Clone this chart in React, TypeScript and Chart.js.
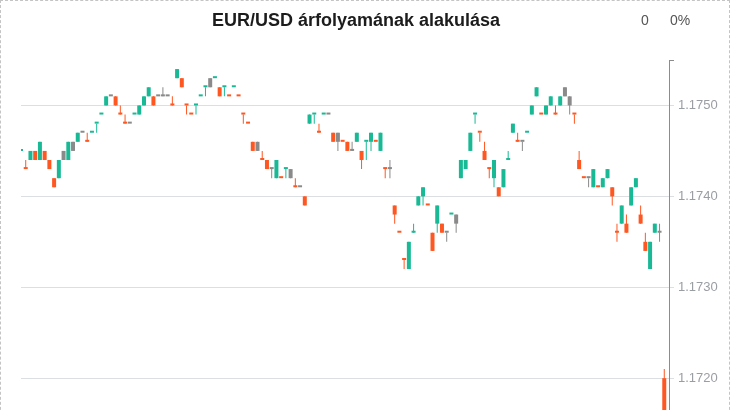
import React, { useEffect, useRef } from "react";
import { Chart, registerables } from "chart.js";

Chart.register(...registerables);

const TITLE = "EUR/USD árfolyamának alakulása";
const CHANGE_ABS = "0";
const CHANGE_PCT = "0%";

// close of the candle preceding the first one shown (sets the first candle's colour)
const PREVIOUS_CLOSE = 1.1744;

const OPEN = [
  1.1745, 1.1743, 1.1744, 1.1745, 1.1744, 1.1745, 1.1744, 1.1742, 1.1742, 1.1745,
  1.1744, 1.1745, 1.1746, 1.1747, 1.1746, 1.1747, 1.1748, 1.1749, 1.1750, 1.1751,
  1.1751, 1.1749, 1.1748, 1.1748, 1.1749, 1.1749, 1.1750, 1.1751, 1.1750, 1.1751,
  1.1751, 1.1751, 1.1750, 1.1753, 1.1753, 1.1750, 1.1749, 1.1750, 1.1751, 1.1752,
  1.1753, 1.1753, 1.1752, 1.1752, 1.1751, 1.1752, 1.1751, 1.1749, 1.1748, 1.1746,
  1.1746, 1.1744, 1.1744, 1.1743, 1.1742, 1.1742, 1.1743, 1.1742, 1.1741, 1.1741,
  1.1740, 1.1749, 1.1749, 1.1747, 1.1749, 1.1749, 1.1746, 1.1746, 1.1746, 1.1746,
  1.1745, 1.1746, 1.1745, 1.1746, 1.1746, 1.1746, 1.1745, 1.1743, 1.1743, 1.1739,
  1.1736, 1.1733, 1.1732, 1.1736, 1.1739, 1.1740, 1.1739, 1.1736, 1.1737, 1.1737,
  1.1736, 1.1738, 1.1737, 1.1744, 1.1743, 1.1745, 1.1749, 1.1747, 1.1745, 1.1743,
  1.1742, 1.1741, 1.1741, 1.1744, 1.1747, 1.1746, 1.1746, 1.1747, 1.1749, 1.1751,
  1.1749, 1.1749, 1.1750, 1.1749, 1.1750, 1.1752, 1.1750, 1.1749, 1.1744, 1.1742,
  1.1742, 1.1741, 1.1741, 1.1741, 1.1742, 1.1741, 1.1736, 1.1737, 1.1737, 1.1739,
  1.1741, 1.1738, 1.1735, 1.1732, 1.1737, 1.1736, 1.1720,
];

const HIGH = [
  1.1745, 1.1744, 1.1745, 1.1745, 1.1746, 1.1745, 1.1744, 1.1742, 1.1744, 1.1745,
  1.1746, 1.1746, 1.1747, 1.1747, 1.1747, 1.1747, 1.1748, 1.1749, 1.1751, 1.1751,
  1.1751, 1.1750, 1.1749, 1.1748, 1.1749, 1.1750, 1.1751, 1.1752, 1.1751, 1.1751,
  1.1752, 1.1751, 1.1751, 1.1754, 1.1753, 1.1750, 1.1749, 1.1750, 1.1751, 1.1752,
  1.1753, 1.1753, 1.1752, 1.1752, 1.1751, 1.1752, 1.1751, 1.1749, 1.1748, 1.1746,
  1.1746, 1.1745, 1.1744, 1.1743, 1.1744, 1.1742, 1.1743, 1.1743, 1.1742, 1.1741,
  1.1740, 1.1749, 1.1749, 1.1748, 1.1749, 1.1749, 1.1747, 1.1747, 1.1746, 1.1746,
  1.1746, 1.1747, 1.1745, 1.1746, 1.1747, 1.1746, 1.1747, 1.1743, 1.1744, 1.1739,
  1.1736, 1.1733, 1.1735, 1.1737, 1.1740, 1.1741, 1.1739, 1.1736, 1.1739, 1.1737,
  1.1736, 1.1738, 1.1738, 1.1744, 1.1744, 1.1747, 1.1749, 1.1747, 1.1746, 1.1743,
  1.1744, 1.1741, 1.1743, 1.1745, 1.1748, 1.1747, 1.1746, 1.1747, 1.1750, 1.1752,
  1.1749, 1.1750, 1.1751, 1.1750, 1.1751, 1.1752, 1.1751, 1.1749, 1.1745, 1.1742,
  1.1742, 1.1743, 1.1741, 1.1742, 1.1743, 1.1741, 1.1737, 1.1739, 1.1738, 1.1741,
  1.1742, 1.1739, 1.1736, 1.1735, 1.1737, 1.1737, 1.1721,
];

const LOW = [
  1.1745, 1.1743, 1.1744, 1.1744, 1.1744, 1.1744, 1.1743, 1.1741, 1.1742, 1.1744,
  1.1744, 1.1745, 1.1746, 1.1747, 1.1746, 1.1747, 1.1747, 1.1749, 1.1750, 1.1751,
  1.1750, 1.1749, 1.1748, 1.1748, 1.1749, 1.1749, 1.1750, 1.1751, 1.1750, 1.1751,
  1.1751, 1.1751, 1.1750, 1.1753, 1.1752, 1.1749, 1.1749, 1.1749, 1.1751, 1.1751,
  1.1752, 1.1753, 1.1751, 1.1751, 1.1751, 1.1752, 1.1751, 1.1748, 1.1748, 1.1745,
  1.1745, 1.1744, 1.1743, 1.1742, 1.1742, 1.1742, 1.1742, 1.1742, 1.1741, 1.1741,
  1.1739, 1.1748, 1.1748, 1.1747, 1.1749, 1.1749, 1.1746, 1.1745, 1.1746, 1.1745,
  1.1745, 1.1746, 1.1743, 1.1744, 1.1745, 1.1746, 1.1745, 1.1742, 1.1742, 1.1737,
  1.1736, 1.1732, 1.1732, 1.1736, 1.1739, 1.1739, 1.1739, 1.1734, 1.1736, 1.1736,
  1.1735, 1.1738, 1.1736, 1.1742, 1.1743, 1.1745, 1.1748, 1.1746, 1.1744, 1.1742,
  1.1741, 1.1740, 1.1741, 1.1744, 1.1747, 1.1746, 1.1745, 1.1747, 1.1749, 1.1751,
  1.1749, 1.1749, 1.1750, 1.1749, 1.1750, 1.1751, 1.1749, 1.1748, 1.1743, 1.1742,
  1.1741, 1.1741, 1.1741, 1.1741, 1.1742, 1.1739, 1.1735, 1.1737, 1.1736, 1.1739,
  1.1741, 1.1737, 1.1734, 1.1732, 1.1736, 1.1735, 1.1714,
];

const CLOSE = [
  1.1745, 1.1743, 1.1745, 1.1744, 1.1746, 1.1744, 1.1743, 1.1741, 1.1744, 1.1744,
  1.1746, 1.1746, 1.1747, 1.1747, 1.1746, 1.1747, 1.1748, 1.1749, 1.1751, 1.1751,
  1.1750, 1.1749, 1.1748, 1.1748, 1.1749, 1.1750, 1.1751, 1.1752, 1.1751, 1.1751,
  1.1751, 1.1751, 1.1750, 1.1754, 1.1752, 1.1750, 1.1749, 1.1750, 1.1751, 1.1752,
  1.1752, 1.1753, 1.1751, 1.1752, 1.1751, 1.1752, 1.1751, 1.1749, 1.1748, 1.1745,
  1.1745, 1.1744, 1.1743, 1.1743, 1.1744, 1.1742, 1.1743, 1.1743, 1.1741, 1.1741,
  1.1739, 1.1748, 1.1749, 1.1747, 1.1749, 1.1749, 1.1747, 1.1747, 1.1746, 1.1745,
  1.1745, 1.1747, 1.1744, 1.1746, 1.1747, 1.1746, 1.1747, 1.1743, 1.1743, 1.1738,
  1.1736, 1.1733, 1.1735, 1.1736, 1.1740, 1.1741, 1.1739, 1.1734, 1.1739, 1.1736,
  1.1736, 1.1738, 1.1738, 1.1742, 1.1744, 1.1747, 1.1749, 1.1747, 1.1744, 1.1743,
  1.1744, 1.1740, 1.1743, 1.1744, 1.1748, 1.1746, 1.1746, 1.1747, 1.1750, 1.1752,
  1.1749, 1.1750, 1.1751, 1.1749, 1.1751, 1.1751, 1.1751, 1.1749, 1.1743, 1.1742,
  1.1742, 1.1743, 1.1741, 1.1742, 1.1743, 1.1740, 1.1736, 1.1739, 1.1736, 1.1741,
  1.1742, 1.1737, 1.1734, 1.1735, 1.1736, 1.1736, 1.1714,
];

const Y_TICKS = [1.172, 1.173, 1.174, 1.175];
const Y_MIN = 1.17154;
const Y_MAX = 1.1755;

const UP = "#19b996";
const DOWN = "#ff5722";
const FLAT = "#8a8a8a";
const GRID = "#dcdfe2";
const AXIS = "#8c8c8c";
const FONT = '"Liberation Sans", Arial, Helvetica, sans-serif';

// candle colour follows the change against the previous close
function candleColour(i: number): string {
  const prev = i === 0 ? PREVIOUS_CLOSE : CLOSE[i - 1];
  if (CLOSE[i] > prev) return UP;
  if (CLOSE[i] < prev) return DOWN;
  return FLAT;
}

const headerPlugin = {
  id: "header",
  afterDraw(chart: any) {
    const { ctx } = chart;
    ctx.save();
    ctx.textAlign = "center";
    ctx.textBaseline = "middle";
    ctx.fillStyle = "#1c1c1c";
    ctx.font = `bold 18px ${FONT}`;
    ctx.fillText(TITLE, 356, 21);
    ctx.fillStyle = "#555555";
    ctx.font = `14px ${FONT}`;
    ctx.fillText(CHANGE_ABS, 645, 21);
    ctx.fillText(CHANGE_PCT, 680, 21);
    ctx.restore();
  },
};

export default function App() {
  const canvasRef = useRef<HTMLCanvasElement | null>(null);

  useEffect(() => {
    document.body.style.margin = "0";
    const canvas = canvasRef.current;
    if (!canvas) return;

    const idx = CLOSE.map((_, i) => i);
    const colours = idx.map(candleColour);

    const chart = new Chart(canvas, {
      type: "bar",
      data: {
        datasets: [
          {
            label: "body",
            data: idx.map((i) => ({ x: i, y: [OPEN[i], CLOSE[i]] })) as any,
            backgroundColor: colours,
            borderWidth: 0,
            barThickness: 4,
            minBarLength: 2,
            grouped: false,
            inflateAmount: 0,
          } as any,
          {
            label: "wick",
            data: idx.map((i) => ({ x: i, y: [LOW[i], HIGH[i]] })) as any,
            backgroundColor: colours,
            borderWidth: 0,
            barThickness: 1,
            grouped: false,
            inflateAmount: 0,
          } as any,
        ],
      },
      options: {
        animation: false,
        responsive: false,
        events: [],
        layout: { padding: { left: 21, top: 60, right: 0, bottom: 20 } },
        plugins: {
          legend: { display: false },
          tooltip: { enabled: false },
          title: { display: false },
        },
        scales: {
          x: {
            type: "linear",
            min: 0,
            max: CLOSE.length,
            offset: false,
            display: false,
          },
          y: {
            type: "linear",
            position: "right",
            min: Y_MIN,
            max: Y_MAX,
            beginAtZero: false,
            afterFit: (scale: any) => {
              scale.width = 61;
            },
            afterBuildTicks: (scale: any) => {
              scale.ticks = [...Y_TICKS, Y_MAX].map((v) => ({ value: v }));
            },
            border: { display: true, color: AXIS, width: 1 },
            grid: {
              color: (ctx: any) =>
                ctx.tick && ctx.tick.value === Y_MAX ? "rgba(0,0,0,0)" : GRID,
              tickColor: (ctx: any) =>
                ctx.tick && ctx.tick.value === Y_MAX ? AXIS : GRID,
              tickLength: 5,
              lineWidth: 1,
            },
            ticks: {
              padding: 4,
              color: "#9a9ea3",
              font: { family: FONT, size: 13 },
              callback: (v: any) =>
                Y_TICKS.includes(Number(v)) ? Number(v).toFixed(4) : "",
            },
          },
        },
      },
      plugins: [headerPlugin],
    });

    return () => chart.destroy();
  }, []);

  return (
    <div
      style={{
        position: "absolute",
        left: 0,
        top: 0,
        width: 730,
        height: 440,
        boxSizing: "border-box",
        border: "1px dashed #c4c4c4",
        overflow: "hidden",
        background: "#ffffff",
      }}
    >
      <canvas
        ref={canvasRef}
        width={730}
        height={440}
        style={{ position: "absolute", left: -1, top: -1, width: 730, height: 440 }}
      />
    </div>
  );
}
